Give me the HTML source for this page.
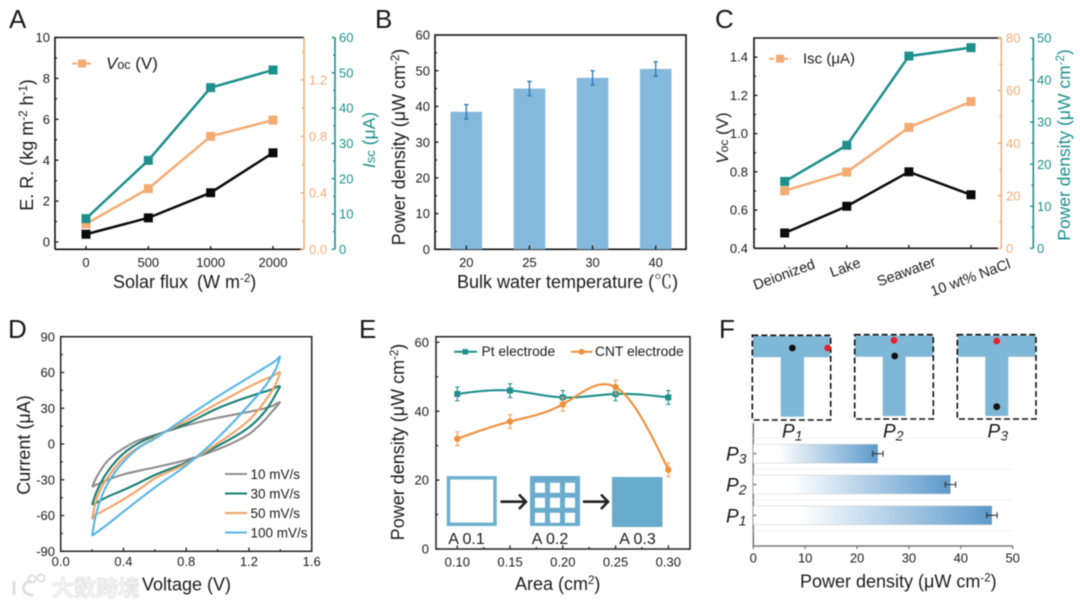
<!DOCTYPE html>
<html lang="en">
<head>
<meta charset="utf-8">
<title>Power generation performance figure</title>
<style>
html,body{margin:0;padding:0;background:#fff;}
body{width:1080px;height:607px;overflow:hidden;}
svg{display:block;filter:blur(0.45px);}
text{font-family:"Liberation Sans","Noto Sans CJK SC",sans-serif;fill:#1a1a1a;}
.title{font-size:18px;}
.letter{font-size:26px;}
.ital{font-style:italic;}
</style>
</head>
<body>
<svg id="figure" xmlns="http://www.w3.org/2000/svg" width="1080" height="607" viewBox="0 0 1080 607">
  <defs>
    <linearGradient id="barFade" x1="0" x2="1" y1="0" y2="0">
      <stop offset="0.2" stop-color="#ffffff"/>
      <stop offset="1" stop-color="#5c99cb"/>
    </linearGradient>
  </defs>

  <!-- Panel letters -->
  <text class="letter" x="9" y="28">A</text>
  <text class="letter" x="375" y="28">B</text>
  <text class="letter" x="715" y="28">C</text>
  <text class="letter" x="8" y="338">D</text>
  <text class="letter" x="359" y="338">E</text>
  <text class="letter" x="719" y="338">F</text>

  <!-- Panel A frame -->
  <g id="panelA">
    <path d="M55 249.3V37.5H304" fill="none" stroke="#111" stroke-width="1.6"/>
    <path d="M55 249.3H304" fill="none" stroke="#111" stroke-width="1.6"/>
    <path d="M304 37.5V249.3" fill="none" stroke="#f4ab72" stroke-width="1.5"/>
    <path d="M335 37.5V249.3" fill="none" stroke="#1d8f8c" stroke-width="1.6"/>
    <text class="title" transform="translate(33 145) rotate(-90)" text-anchor="middle">E. R. (kg m<tspan font-size="11.5" dy="-6">-2</tspan><tspan dy="6"> h</tspan><tspan font-size="11.5" dy="-6">-1</tspan><tspan dy="6">)</tspan></text>
    <text class="title" x="113" y="288">Solar flux <tspan dx="4">(W m</tspan><tspan font-size="11.5" dy="-6">-2</tspan><tspan dy="6">)</tspan></text>
    <text transform="translate(375 140) rotate(-90)" text-anchor="middle" font-size="17.5" style="fill:#1d8f8c"><tspan class="ital" style="fill:#1d8f8c">I</tspan><tspan font-size="13" style="fill:#1d8f8c">sc</tspan> (μA)</text>
    <path d="M72 63.5H93" stroke="#f4ab72" stroke-width="2" stroke-dasharray="5 2"/>
    <rect x="78" y="59.5" width="8" height="8" fill="#f4ab72"/>
    <text x="106" y="69" font-size="17"><tspan class="ital">V</tspan><tspan font-size="12.5">oc</tspan> (V)</text>
  </g>

  <!-- Panel B frame -->
  <g id="panelB">
    <rect x="435" y="35" width="251" height="214.3" fill="none" stroke="#111" stroke-width="1.6"/>
    <text class="title" transform="translate(405 147) rotate(-90)" text-anchor="middle">Power density (μW cm<tspan font-size="11.5" dy="-6">-2</tspan><tspan dy="6">)</tspan></text>
    <text class="title" x="457" y="288">Bulk water temperature (<tspan style="font-family:'Noto Serif CJK SC',serif">℃</tspan>)</text>
  </g>

  <!-- Panel C frame -->
  <g id="panelC">
    <path d="M754 248.3V38H1001.3" fill="none" stroke="#111" stroke-width="1.6"/>
    <path d="M754 248.3H998" fill="none" stroke="#111" stroke-width="1.6"/>
    <path d="M1001.3 38V248.3" fill="none" stroke="#f4ab72" stroke-width="1.5"/>
    <path d="M1033.3 38V248.3" fill="none" stroke="#1d8f8c" stroke-width="1.6"/>
    <text transform="translate(728 138) rotate(-90)" text-anchor="middle" font-size="17"><tspan class="ital">V</tspan><tspan font-size="12">oc</tspan> (V)</text>
    <text transform="translate(1070 145) rotate(-90)" text-anchor="middle" font-size="17.5" style="fill:#1d8f8c">Power density (μW cm<tspan font-size="11.5" dy="-6" style="fill:#1d8f8c">-2</tspan><tspan dy="6" style="fill:#1d8f8c">)</tspan></text>
    <path d="M769 58.7H791" stroke="#f4ab72" stroke-width="2" stroke-dasharray="5 2"/>
    <rect x="776" y="54.7" width="8" height="8" fill="#f4ab72"/>
    <text x="803" y="63.5" font-size="15">Isc (μA)</text>
  </g>

  <!-- Panel D frame -->
  <g id="panelD">
    <rect x="60.7" y="336.7" width="251" height="214.6" fill="none" stroke="#222" stroke-width="1.5"/>
    <text class="title" transform="translate(30 445) rotate(-90)" text-anchor="middle">Current (μA)</text>
    <text class="title" x="142" y="590.5">Voltage (V)</text>
  </g>

  <!-- Panel E frame -->
  <g id="panelE">
    <rect x="436" y="336.7" width="254" height="212.3" fill="none" stroke="#222" stroke-width="1.5"/>
    <text class="title" transform="translate(404 442) rotate(-90)" text-anchor="middle">Power density (μW cm<tspan font-size="11.5" dy="-6">-2</tspan><tspan dy="6">)</tspan></text>
    <text class="title" x="515" y="590">Area (cm<tspan font-size="11.5" dy="-6">2</tspan><tspan dy="6">)</tspan></text>
    <path d="M454 351.7H477" stroke="#1d8f8c" stroke-width="2"/>
    <rect x="462.5" y="349" width="5.5" height="5.5" fill="#1d8f8c"/>
    <text x="481.5" y="356" font-size="13.8">Pt electrode</text>
    <path d="M571 351.7H592.5" stroke="#ee8f3c" stroke-width="2"/>
    <circle cx="581.5" cy="351.7" r="3" fill="#ee8f3c"/>
    <text x="595" y="356" font-size="13.8">CNT electrode</text>
    <rect x="448.5" y="477.8" width="46.5" height="46.5" fill="#fff" stroke="#6fb0d0" stroke-width="3.5"/>
    <path d="M530 476h50v50h-50z M535 482.7v10h10v-10z M550 482.7v10h10v-10z M565 482.7v10h10v-10z M535 497.7v10h10v-10z M550 497.7v10h10v-10z M565 497.7v10h10v-10z M535 512.7v10h10v-10z M550 512.7v10h10v-10z M565 512.7v10h10v-10z" fill="#6aaccd" fill-rule="evenodd"/>
    <rect x="612" y="477" width="50.5" height="50" fill="#69abcc"/>
    <path d="M500.5 501.7H525M519 494.5L526 501.7L519 509" fill="none" stroke="#222" stroke-width="2.6"/>
    <path d="M583 501.7H607M601 494.5L608 501.7L601 509" fill="none" stroke="#222" stroke-width="2.6"/>
    <text x="466.5" y="544" font-size="16" text-anchor="middle">A 0.1</text>
    <text x="550" y="544" font-size="16" text-anchor="middle">A 0.2</text>
    <text x="637.5" y="544" font-size="16" text-anchor="middle">A 0.3</text>
  </g>

  <!-- Panel F diagrams -->
  <g id="panelFtop">
    <g>
      <path d="M753 336H830V357.3H804V416.7H780.7V357.3H753Z" fill="#7fb8d6"/>
      <rect x="752.3" y="335.3" width="78.4" height="84.7" fill="none" stroke="#111" stroke-width="1.6" stroke-dasharray="6 3"/>
      <circle cx="792.3" cy="348" r="3.4" fill="#111"/>
      <circle cx="827.7" cy="348" r="3.4" fill="#e8202a"/>
    </g>
    <g>
      <path d="M855 335.5H933V356.7H905.7V416H882.7V356.7H855Z" fill="#7fb8d6"/>
      <rect x="854.7" y="334.7" width="78.6" height="84.3" fill="none" stroke="#111" stroke-width="1.6" stroke-dasharray="6 3"/>
      <circle cx="894.7" cy="356" r="3.4" fill="#111"/>
      <circle cx="894" cy="340.3" r="3.4" fill="#e8202a"/>
    </g>
    <g>
      <path d="M958 335.5H1035.5V356.7H1008.3V416H985.3V356.7H958Z" fill="#7fb8d6"/>
      <rect x="957.3" y="334.7" width="78.7" height="84.3" fill="none" stroke="#111" stroke-width="1.6" stroke-dasharray="6 3"/>
      <circle cx="996.7" cy="406.7" r="3.4" fill="#111"/>
      <circle cx="996.7" cy="341" r="3.4" fill="#e8202a"/>
    </g>
    <text x="782" y="437.5" font-size="19" class="ital">P<tspan font-size="14" dy="3">1</tspan></text>
    <text x="883" y="437.5" font-size="19" class="ital">P<tspan font-size="14" dy="3">2</tspan></text>
    <text x="987.5" y="437.5" font-size="19" class="ital">P<tspan font-size="14" dy="3">3</tspan></text>
  </g>

  <!-- Panel F bar chart frame -->
  <g id="panelF">
    <path d="M753.3 423V546H1012.7" fill="none" stroke="#777" stroke-width="1.5"/>
    <text class="title" x="800" y="587.5">Power density (μW cm<tspan font-size="11.5" dy="-6">-2</tspan><tspan dy="6">)</tspan></text>
  </g>

  <!-- Watermark -->
  <g>
    <path d="M14 581V595M31 581C21 582 20 595 33 595" fill="none" stroke="#e0e0e0" stroke-width="3"/>
    <circle cx="32" cy="579" r="3.6" fill="none" stroke="#d8d8d8" stroke-width="1.5"/>
    <circle cx="41" cy="578" r="3.6" fill="none" stroke="#d8d8d8" stroke-width="1.5"/>
    <text x="52" y="596" font-size="22" font-weight="bold" style="font-family:'Noto Sans CJK SC',sans-serif;fill:#f4f4f4;stroke:#d6d6d6;stroke-width:0.5">大数跨境</text>
  </g>
</svg>

<script>
// ---- Panel A data ----
const aCategories = ['0', '500', '1000', '2000'];
const aEvapRate = [0.38, 1.18, 2.41, 4.36];
const aVoc = [0.18, 0.43, 0.80, 0.915];
const aIsc = [8.7, 25.2, 45.8, 50.8];
const aLeftTicks = ['0', '2', '4', '6', '8', '10'];
const aVocTicks = ['0.0', '0.4', '0.8', '1.2'];
const aIscTicks = ['0', '10', '20', '30', '40', '50', '60'];

// ---- Panel B data ----
const bCategories = ['20', '25', '30', '40'];
const bPower = [38.5, 45, 48, 50.5];
const bError = [2, 2, 2, 2];
const bTicks = ['0', '10', '20', '30', '40', '50', '60'];

// ---- Panel C data ----
const cCategories = ['Deionized', 'Lake', 'Seawater', '10 wt% NaCl'];
const cVoc = [0.48, 0.62, 0.80, 0.68];
const cIsc = [21.9, 29, 46, 55.8];
const cPower = [15.9, 24.5, 45.7, 47.7];
const cLeftTicks = ['0.4', '0.6', '0.8', '1.0', '1.2', '1.4'];
const cIscTicks = ['0', '20', '40', '60', '80'];
const cPowerTicks = ['0', '10', '20', '30', '40', '50'];

// ---- Panel D data ----
const dVoltage = [0.2, 0.22, 0.25, 0.3, 0.4, 0.5, 0.6, 0.8, 1.0, 1.2, 1.3, 1.35, 1.38, 1.4];
const dUpper10 = [-36, -30, -23, -14, -3.7, 3.3, 7.5, 15.5, 22, 27, 29.9, 32, 34, 35.5];
const dLower10 = [-36, -34.5, -33, -30, -25.5, -22.4, -19.6, -13.4, -4.5, 8.3, 20, 27.6, 32, 35.5];
const dUpper30 = [-51, -43, -34, -23, -8, 1, 7, 17, 29.9, 39.7, 43.9, 46, 48, 48.6];
const dLower30 = [-51, -49.8, -47.6, -44.2, -38.6, -32.5, -26, -15.5, -1.7, 14, 27, 36.9, 43.9, 48.6];
const dUpper50 = [-63, -50, -39, -28, -12, -2.5, 5.5, 19.5, 34, 48, 54.2, 57, 59.2, 60.6];
const dLower50 = [-63, -59.6, -57.6, -54, -46.5, -38, -28.9, -16.5, 0.5, 20, 35.5, 45.3, 53, 60.6];
const dUpper100 = [-77, -62, -48, -33, -15, -3, 4.5, 22.3, 39.7, 55.9, 64, 68, 71, 74];
const dLower100 = [-77, -75, -72.2, -67.2, -56.8, -46.5, -36.5, -18, 5, 32.7, 48, 57.8, 65.4, 74];
const dLegendLabels = ['10 mV/s', '30 mV/s', '50 mV/s', '100 mV/s'];
const dXTicks = ['0.0', '0.4', '0.8', '1.2', '1.6'];
const dYTicks = ['-90', '-60', '-30', '0', '30', '60', '90'];

// ---- Panel E data ----
const eArea = [0.10, 0.15, 0.20, 0.25, 0.30];
const ePt = [45, 46, 44, 45, 44];
const eCnt = [32, 37, 42, 47, 23];
const ePtError = [2, 2, 2, 2, 2];
const eCntError = [2, 2, 2, 2, 2];
const eXTicks = ['0.10', '0.15', '0.20', '0.25', '0.30'];
const eYTicks = ['0', '20', '40', '60'];

// ---- Panel F data ----
const fCategories = ['3', '2', '1'];
const fPower = [24, 38, 46];
const fError = [1, 1, 1];
const fTicks = ['0', '10', '20', '30', '40', '50'];

const NS = 'http://www.w3.org/2000/svg';
function mk(tag, attrs, parent) {
  const el = document.createElementNS(NS, tag);
  for (const k in attrs) el.setAttribute(k, attrs[k]);
  parent.appendChild(el);
  return el;
}
function scale(d0, d1, r0, r1) {
  return v => r0 + (v - d0) * (r1 - r0) / (d1 - d0);
}
function tickLabel(parent, x, y, str, anchor, color, size) {
  const el = mk('text', {x: x, y: y, 'text-anchor': anchor, 'font-size': size || 13}, parent);
  el.style.fill = color;
  el.textContent = str;
  
  
  return el;
}
function tickMark(parent, x1, y1, x2, y2, color) {
  const el = mk('line', {x1: x1, y1: y1, x2: x2, y2: y2, stroke: color, 'stroke-width': 1.3}, parent);
  
  
  return el;
}
// vertical axis ticks pointing inward from axisX, with midpoint minor ticks
function yAxis(parent, ticks, y, axisX, labelX, anchor, color) {
  ticks.forEach((t, i) => {
    const v = parseFloat(t);
    tickMark(parent, axisX, y(v), axisX + 3.5, y(v), color);
    tickLabel(parent, labelX, y(v) + 4.6, t, anchor, color);
    if (i < ticks.length - 1) {
      const m = (v + parseFloat(ticks[i + 1])) / 2;
      tickMark(parent, axisX, y(m), axisX + 2, y(m), color);
    }
  });
}
function yAxisRight(parent, ticks, y, axisX, labelX, color, top) {
  const step = parseFloat(ticks[1]) - parseFloat(ticks[0]);
  ticks.forEach((t, i) => {
    const v = parseFloat(t);
    tickMark(parent, axisX - 3.5, y(v), axisX, y(v), color);
    tickLabel(parent, labelX, y(v) + 4.6, t, 'start', color);
    const m = v + step / 2;
    if (m <= top) tickMark(parent, axisX - 2, y(m), axisX, y(m), color);
  });
}
function lineSeries(parent, xs, ys, color, name) {
  const path = mk('polyline', {points: xs.map((x, i) => x + ',' + ys[i]).join(' '), fill: 'none', stroke: color, 'stroke-width': 2.5}, parent);
  
  
  xs.forEach((x, i) => {
    const m = mk('rect', {x: x - 4.5, y: ys[i] - 4.5, width: 9, height: 9, fill: color}, parent);
    
    
  });
}
function errorV(parent, x, yTop, yBot, color, width) {
  const el = mk('path', {d: 'M' + (x - 2.2) + ' ' + yTop + 'H' + (x + 2.2) + 'M' + x + ' ' + yTop + 'V' + yBot + 'M' + (x - 2.2) + ' ' + yBot + 'H' + (x + 2.2), fill: 'none', stroke: color, 'stroke-width': width || 1.3}, parent);
  
  
}
function naturalSpline(xs, ys) {
  const n = xs.length, h = [], a = new Array(n).fill(0), b = new Array(n).fill(0), m = new Array(n).fill(0);
  for (let i = 0; i < n - 1; i++) h.push(xs[i + 1] - xs[i]);
  for (let i = 1; i < n - 1; i++) {
    const d = 2 * (h[i - 1] + h[i]) - h[i - 1] * a[i - 1];
    a[i] = h[i] / d;
    b[i] = (6 * ((ys[i + 1] - ys[i]) / h[i] - (ys[i] - ys[i - 1]) / h[i - 1]) - h[i - 1] * b[i - 1]) / d;
  }
  for (let i = n - 2; i > 0; i--) m[i] = b[i] - a[i] * m[i + 1];
  return t => {
    let i = 0;
    while (i < n - 2 && t > xs[i + 1]) i++;
    const A = (xs[i + 1] - t) / h[i], B = (t - xs[i]) / h[i];
    return A * ys[i] + B * ys[i + 1] + ((A * A * A - A) * m[i] + (B * B * B - B) * m[i + 1]) * h[i] * h[i] / 6;
  };
}
function monotonePath(pts) {
  // Monotone cubic Hermite over x, handles uneven point spacing without kinks
  const n = pts.length, slopes = [], tan = [];
  for (let i = 0; i < n - 1; i++) slopes.push((pts[i + 1][1] - pts[i][1]) / (pts[i + 1][0] - pts[i][0]));
  tan[0] = slopes[0];
  tan[n - 1] = slopes[n - 2];
  for (let i = 1; i < n - 1; i++) {
    const h0 = pts[i][0] - pts[i - 1][0], h1 = pts[i + 1][0] - pts[i][0];
    const s0 = slopes[i - 1], s1 = slopes[i];
    tan[i] = s0 * s1 <= 0 ? 0 : (3 * (h0 + h1)) / ((2 * h1 + h0) / s0 + (h1 + 2 * h0) / s1);
  }
  let d = 'M' + pts[0][0] + ' ' + pts[0][1];
  for (let i = 0; i < n - 1; i++) {
    const h = (pts[i + 1][0] - pts[i][0]) / 3;
    d += 'C' + (pts[i][0] + h) + ' ' + (pts[i][1] + tan[i] * h) + ' ' + (pts[i + 1][0] - h) + ' ' + (pts[i + 1][1] - tan[i + 1] * h) + ' ' + pts[i + 1][0] + ' ' + pts[i + 1][1];
  }
  return d;
}

// ---- Draw panel A ----
(function () {
  const g = document.getElementById('panelA');
  const x = scale(0, 3, 86, 273);
  const yL = scale(0, 10, 242, 37.5);
  const yV = scale(0, 1.5, 249.3, 37.5);
  const yI = scale(0, 60, 249.3, 37.5);
  yAxis(g, aLeftTicks, yL, 55, 50, 'end', '#1a1a1a');
  yAxisRight(g, aVocTicks, yV, 304, 309, '#f4ab72', 1.4);
  yAxisRight(g, aIscTicks, yI, 335, 339, '#1d8f8c', 59);
  const xs = aCategories.map((c, i) => x(i));
  aCategories.forEach((c, i) => {
    tickMark(g, xs[i], 249.3, xs[i], 246, '#111');
    tickLabel(g, xs[i], 267, c, 'middle', '#1a1a1a');
  });
  lineSeries(g, xs, aEvapRate.map(yL), '#0a0a0a', 'evaporation-rate');
  lineSeries(g, xs, aVoc.map(yV), '#f4ab72', 'voc');
  lineSeries(g, xs, aIsc.map(yI), '#1d8f8c', 'isc');
})();

// ---- Draw panel B ----
(function () {
  const g = document.getElementById('panelB');
  const x = scale(0, 3, 466.3, 655.7);
  const y = scale(0, 60, 249.3, 35);
  yAxis(g, bTicks, y, 435, 430, 'end', '#1a1a1a');
  bCategories.forEach((c, i) => {
    const bar = mk('rect', {x: x(i) - 15.8, y: y(bPower[i]), width: 31.6, height: y(0) - y(bPower[i]), fill: '#85b9dc'}, g);
    
    
    errorV(g, x(i), y(bPower[i] + bError[i]), y(bPower[i] - bError[i]), '#2b78b5');
    tickMark(g, x(i), 249.3, x(i), 245.5, '#111');
    tickLabel(g, x(i), 267, c, 'middle', '#1a1a1a');
  });
})();

// ---- Draw panel C ----
(function () {
  const g = document.getElementById('panelC');
  const x = scale(0, 3, 784.7, 971);
  const yL = scale(0.4, 1.5, 248.3, 38);
  const yI = scale(0, 80, 248.3, 38);
  const yP = scale(0, 50, 248.3, 38);
  yAxis(g, cLeftTicks, yL, 754, 748, 'end', '#1a1a1a');
  yAxisRight(g, cIscTicks, yI, 1001.3, 1006, '#f4ab72', 79);
  yAxisRight(g, cPowerTicks, yP, 1033.3, 1037, '#1d8f8c', 49);
  const xs = cCategories.map((c, i) => x(i));
  const labelY = [279, 272, 276, 282];
  const labelDx = [1, 0, -1, 1];
  cCategories.forEach((c, i) => {
    tickMark(g, xs[i], 248.3, xs[i], 245, '#111');
    const t = mk('text', {x: 0, y: 0, 'text-anchor': 'middle', 'font-size': 14.5, transform: 'translate(' + (xs[i] + labelDx[i]) + ' ' + labelY[i] + ') rotate(-20)'}, g);
    t.textContent = c;
    
    
  });
  lineSeries(g, xs, cVoc.map(yL), '#0a0a0a', 'voc');
  lineSeries(g, xs, cIsc.map(yI), '#f4ab72', 'isc');
  lineSeries(g, xs, cPower.map(yP), '#1d8f8c', 'power-density');
})();

// ---- Draw panel D ----
(function () {
  const g = document.getElementById('panelD');
  const x = scale(0, 1.6, 60.7, 311.7);
  const y = scale(-90, 90, 551.3, 336.7);
  yAxis(g, dYTicks, y, 60.7, 55, 'end', '#1a1a1a');
  dXTicks.forEach((t, i) => {
    const v = parseFloat(t);
    tickMark(g, x(v), 551.3, x(v), 547.5, '#222');
    tickLabel(g, x(v), 566, t, 'middle', '#1a1a1a');
    if (i < dXTicks.length - 1) {
      const m = x((v + parseFloat(dXTicks[i + 1])) / 2);
      tickMark(g, m, 551.3, m, 549.3, '#222');
    }
  });
  const loops = [
    [dUpper10, dLower10, '#8e8e8e'],
    [dUpper30, dLower30, '#1a7f74'],
    [dUpper50, dLower50, '#f2a468'],
    [dUpper100, dLower100, '#58b6e8']
  ];
  loops.forEach((loop, k) => {
    const up = dVoltage.map((v, i) => [x(v), y(loop[0][i])]);
    const lo = dVoltage.map((v, i) => [x(v), y(loop[1][i])]);
    const p = mk('path', {d: monotonePath(up) + monotonePath(lo), fill: 'none', stroke: loop[2], 'stroke-width': 2.1, 'stroke-linejoin': 'round'}, g);
    
    
    const ly = 474 + 19.5 * k;
    const l = mk('line', {x1: 225, x2: 247, y1: ly, y2: ly, stroke: loop[2], 'stroke-width': 2}, g);
    
    
    const t = tickLabel(g, 250.5, ly + 4.8, dLegendLabels[k], 'start', '#1a1a1a', 13.5);
    
  });
})();

// ---- Draw panel E ----
(function () {
  const g = document.getElementById('panelE');
  const x = scale(0.10, 0.30, 457.3, 668.3);
  const y = scale(0, 60, 549, 342.3);
  yAxis(g, eYTicks, y, 436, 429, 'end', '#1a1a1a');
  eXTicks.forEach((t, i) => {
    const v = parseFloat(t);
    tickMark(g, x(v), 549, x(v), 545.3, '#222');
    tickLabel(g, x(v), 566.5, t, 'middle', '#1a1a1a');
    if (i < eXTicks.length - 1) {
      const m = x(v + 0.025);
      tickMark(g, m, 549, m, 547, '#222');
    }
  });
  function curve(vals, color, name) {
    const sp = naturalSpline(eArea, vals);
    const pts = [];
    const lo = eArea[0], hi = eArea[eArea.length - 1];
    for (let i = 0; i <= 80; i++) {
      const t = lo + (hi - lo) * i / 80;
      pts.push(x(t) + ',' + y(sp(t)));
    }
    const p = mk('polyline', {points: pts.join(' '), fill: 'none', stroke: color, 'stroke-width': 2.1}, g);
    
    
  }
  curve(ePt, '#1d8f8c', 'pt-electrode');
  eArea.forEach((a, i) => {
    errorV(g, x(a), y(ePt[i] + ePtError[i]), y(ePt[i] - ePtError[i]), '#2a9088', 1.1);
    const m = mk('rect', {x: x(a) - 3, y: y(ePt[i]) - 3, width: 6, height: 6, fill: '#1d8f8c'}, g);
    
    
  });
  curve(eCnt, '#ee8f3c', 'cnt-electrode');
  eArea.forEach((a, i) => {
    errorV(g, x(a), y(eCnt[i] + eCntError[i]), y(eCnt[i] - eCntError[i]), '#f0a060', 1.1);
    const m = mk('circle', {cx: x(a), cy: y(eCnt[i]), r: 3.2, fill: '#ee8f3c'}, g);
    
    
  });
})();

// ---- Draw panel F ----
(function () {
  const g = document.getElementById('panelF');
  const x = scale(0, 50, 753.3, 1012.7);
  const y = scale(0, 2, 453.7, 515.3);
  fTicks.forEach(t => {
    const v = parseFloat(t);
    tickMark(g, x(v), 546, x(v), 549, '#777');
    tickLabel(g, x(v), 562.5, t, 'middle', '#1a1a1a');
  });
  [-0.5, 0.5, 1.5, 2.5].forEach(pos => {
    const gl = mk('line', {x1: 753.3, x2: 1012.7, y1: y(pos), y2: y(pos), stroke: '#f2f2f2', 'stroke-width': 1}, g);
    
    
  });
  fCategories.forEach((c, i) => {
    const cy = y(i);
    const bar = mk('rect', {x: 753.3, y: cy - 9.4, width: x(fPower[i]) - 753.3, height: 18.8, fill: 'url(#barFade)'}, g);
    
    
    [-9.4, 9.4].forEach(off => {
      const edge = mk('line', {x1: 753.3, x2: x(fPower[i]), y1: cy + off, y2: cy + off, stroke: '#bdbdbd', 'stroke-width': 0.8, 'stroke-dasharray': '1 1'}, g);
      
      
    });
    const xa = x(fPower[i] - fError[i]), xb = x(fPower[i] + fError[i]);
    const err = mk('path', {d: 'M' + xa + ' ' + (cy - 3) + 'V' + (cy + 3) + 'M' + xa + ' ' + cy + 'H' + xb + 'M' + xb + ' ' + (cy - 3) + 'V' + (cy + 3), fill: 'none', stroke: '#333', 'stroke-width': 1.1}, g);
    
    
    tickMark(g, 753.3, cy, 756.5, cy, '#777');
    const t = mk('text', {x: 726, y: cy + 7, 'font-size': 19, 'font-style': 'italic'}, g);
    t.textContent = 'P';
    
    
    const s = mk('tspan', {'font-size': 14, dy: 3}, t);
    s.textContent = c;
  });
})();
</script>
</body>
</html>
